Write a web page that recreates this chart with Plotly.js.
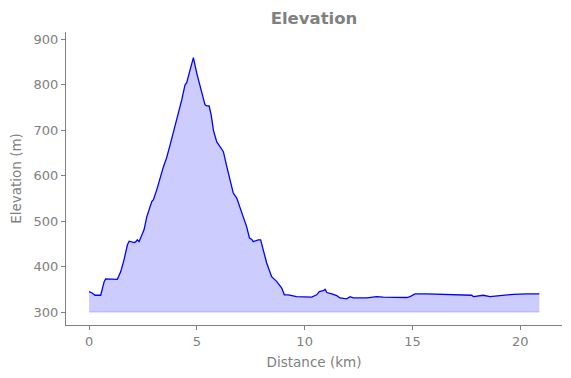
<!DOCTYPE html>
<html>
<head>
<meta charset="utf-8">
<script src="https://cdn.plot.ly/plotly-3.0.1.min.js"></script>
<style>html,body{margin:0;padding:0;background:#fff;}#chart{width:571px;height:378px;}</style>
</head>
<body>
<div id="chart"></div>
<script>
// Distance along the route (km)
const distanceKm = [0, 0.14, 0.28, 0.54, 0.70, 0.77, 1.31, 1.47, 1.62, 1.78, 1.86, 2.09, 2.17, 2.24, 2.32, 2.43, 2.55,
  2.68, 2.91, 2.98, 3.14, 3.45, 3.60, 3.76, 3.91, 4.07, 4.22, 4.30, 4.45, 4.53, 4.68, 4.84, 5.00, 5.15, 5.23, 5.30,
  5.38, 5.46, 5.57, 5.66, 5.77, 5.92, 6.08, 6.23, 6.39, 6.54, 6.69, 6.85, 7.00, 7.20, 7.31, 7.44, 7.55, 7.62, 7.85,
  7.96, 8.08, 8.24, 8.47, 8.71, 8.94, 9.06, 9.24, 9.32, 9.63, 10.33, 10.56, 10.68, 10.87, 10.95, 11.03, 11.26, 11.49,
  11.64, 11.95, 12.11, 12.26, 12.88, 13.34, 13.65, 14.27, 14.74, 14.89, 15.12, 15.66, 16.28, 16.90, 17.36, 17.75,
  17.83, 18.21, 18.29, 18.60, 19.06, 19.68, 20.30, 20.89];
// Elevation (m)
const elevationM = [345, 342, 337, 337, 367, 373, 372, 389, 415, 448, 456, 453, 455, 459, 455, 466, 481,
  510, 543, 547, 569, 620, 640, 668, 695, 723, 752, 767, 800, 805, 832, 860, 825, 798, 778, 767,
  756, 754, 754, 735, 700, 675, 664, 653, 620, 591, 562, 551, 532, 503, 488, 463, 460, 455, 459,
  459, 437, 408, 378, 367, 353, 338, 338, 337, 334, 333, 338, 345, 347, 350, 343, 340, 336,
  331, 329, 334, 331, 331, 334, 333, 332, 332, 334, 340, 340, 339, 337, 336, 337,
  334, 336, 337, 334, 336, 339, 340, 340];
const fillBase = 300;
const xTicks = [0, 5, 10, 15, 20];
const yTicks = [300, 400, 500, 600, 700, 800, 900];

const grey = '#808080';
const font = 'DejaVu Sans, sans-serif';

const baseX = [distanceKm[0], distanceKm[distanceKm.length - 1]];
const baseY = [fillBase, fillBase];

const traces = [
  {x: baseX, y: baseY, mode: 'lines', line: {color: 'rgba(0,0,255,0.2)', width: 1}, hoverinfo: 'skip', showlegend: false},
  {x: distanceKm, y: elevationM, mode: 'lines', fill: 'tonexty', fillcolor: 'rgba(0,0,255,0.2)',
   line: {color: '#0000ff', width: 1.3}, showlegend: false}
];

const axisCommon = {
  showgrid: false, zeroline: false, showline: true, linecolor: grey, linewidth: 1,
  ticks: 'outside', ticklen: 4, tickcolor: grey, tickwidth: 1,
  tickfont: {family: font, size: 13, color: grey}, mirror: false
};

const layout = {
  width: 571, height: 378,
  margin: {l: 66, r: 9, t: 32, b: 53},
  paper_bgcolor: '#fff', plot_bgcolor: '#fff',
  title: {text: '<b>Elevation</b>', font: {family: font, size: 16.5, color: grey},
          x: 0.5, xref: 'paper', y: 1 - 18 / 378, yref: 'container', yanchor: 'middle'},
  xaxis: Object.assign({}, axisCommon, {
    range: [-1.07, 21.94], tickvals: xTicks, ticktext: xTicks.map(String),
    title: {text: 'Distance (km)', font: {family: font, size: 13.5, color: grey}, standoff: 9}
  }),
  yaxis: Object.assign({}, axisCommon, {
    range: [271.5, 916.5], tickvals: yTicks, ticktext: yTicks.map(String),
    title: {text: 'Elevation (m)', font: {family: font, size: 13.5, color: grey}, standoff: 8}
  })
};

Plotly.newPlot('chart', traces, layout, {staticPlot: true, displayModeBar: false});
</script>
</body>
</html>
